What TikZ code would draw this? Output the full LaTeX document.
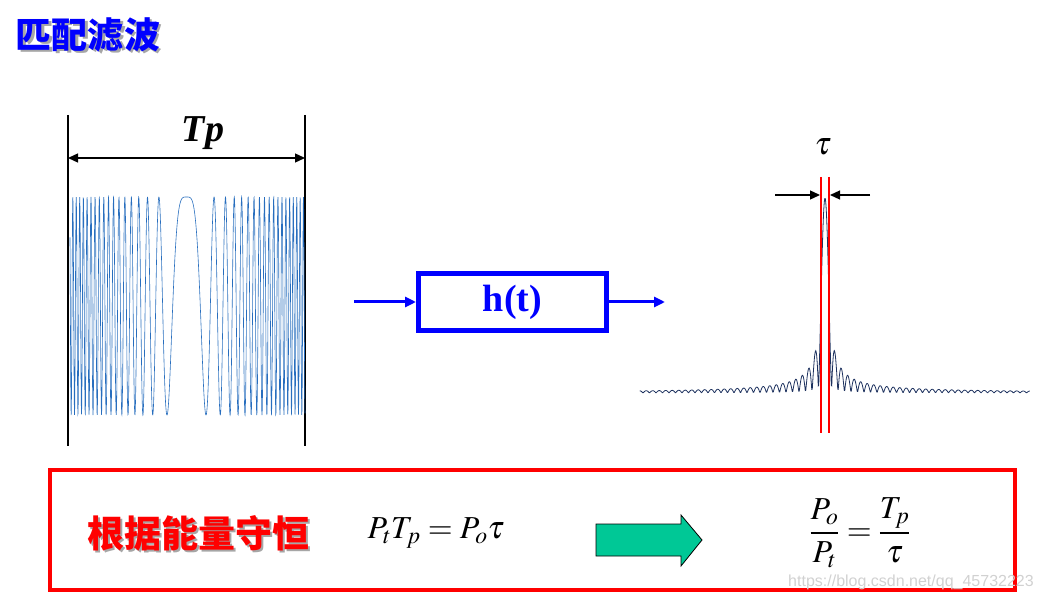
\documentclass[tikz,border=0pt]{standalone}
\usepackage{amsmath}
\usepackage{mathptmx}
\usepackage{fontspec}
\setmainfont{Liberation Serif}
\setsansfont{Liberation Sans}
\newfontfamily\cjk{Noto Sans CJK SC}
\usepackage{xcolor}
\usepackage{tikz}
\usetikzlibrary{arrows.meta}

\definecolor{chirpblue}{RGB}{40,110,190}
\definecolor{pulsenavy}{RGB}{30,50,95}
\definecolor{arrowgreen}{RGB}{0,200,150}

\begin{document}
\begin{tikzpicture}[x=1pt, y=-1pt,
    bar/.style={black, line width=1.3},
    flow/.style={blue, line width=3, -{Triangle[length=11,width=10]}},
    tick/.style={black, line width=1.3, -{Triangle[length=10,width=9]}},
    cut/.style={red, line width=2.5}]
  \useasboundingbox (0,0) rectangle (1046,601);

  % title with shadow
  \node[text=black!35, font=\cjk\bfseries\fontsize{36}{38}\selectfont] (titleshadow) at (90,37) {匹配滤波};
  \node[text=blue, font=\cjk\bfseries\fontsize{36}{38}\selectfont] (title) at (88,35) {匹配滤波};

  % chirp input
  \draw[bar] (68,115) -- (68,446);
  \draw[bar] (305,115) -- (305,446);
  \coordinate (tpL) at (68,158);
  \coordinate (tpR) at (305,158);
  \draw[bar, {Triangle[length=10,width=9]}-{Triangle[length=10,width=9]}] (tpL) -- (tpR);
  \node[font=\bfseries\itshape\fontsize{38}{40}\selectfont] (tp) at (203,133) {Tp};
  \draw[chirpblue, line width=0.6] plot[domain=-116.5:118.5, samples=1400, variable=\u]
    ({186.5+\u}, {306-109*cos(0.4737*\u*\u)});

  % filter
  \node[draw=blue, line width=5, minimum width=188, minimum height=57, inner sep=0,
        text=blue, font=\bfseries\fontsize{38}{40}\selectfont] (hbox) at (512.5,302) {h(t)};
  \coordinate (in) at (354,302);
  \coordinate (out) at (665,302);
  \draw[flow] (in) -- (hbox.west);
  \draw[flow] (hbox.east) -- (out);

  % compressed pulse
  \draw[pulsenavy, line width=0.8] plot[domain=-185.25:204.75, samples=781, variable=\u]
    ({825+\u}, {393-195*abs(sin(27.69*\u)/(0.4833*\u))});
  \draw[cut] (821,177) -- (821,433);
  \draw[cut] (829,177) -- (829,433);
  \coordinate (tauA) at (775,195);
  \coordinate (tauB) at (820,195);
  \coordinate (tauC) at (870,195);
  \coordinate (tauD) at (830,195);
  \draw[tick] (tauA) -- (tauB);
  \draw[tick] (tauC) -- (tauD);
  \node[font=\fontsize{32}{34}\selectfont] (tau) at (823,147) {$\tau$};

  % energy conservation
  \draw[red, line width=4] (50,470) rectangle (1015,590);
  \node[text=black!35, font=\cjk\bfseries\fontsize{37}{39}\selectfont] (energyshadow) at (200,535) {根据能量守恒};
  \node[text=red, font=\cjk\bfseries\fontsize{37}{39}\selectfont] (energy) at (198,533) {根据能量守恒};
  \node[font=\fontsize{32}{34}\selectfont] (cons) at (436,533) {$P_tT_p = P_o\tau$};
  \draw[black, line width=0.8, fill=arrowgreen]
    (596,524) -- (681,524) -- (681,515) -- (702,540) -- (681,566) -- (681,556) -- (596,556) -- cycle;
  \node[font=\fontsize{32}{34}\selectfont] (ratio) at (860,533) {$\dfrac{P_o}{P_t} = \dfrac{T_p}{\tau}$};

  \node[text=black!18, font=\sffamily\fontsize{16}{17}\selectfont] (mark) at (911,582) {https://blog.csdn.net/qq\_45732223};
\end{tikzpicture}
\end{document}
